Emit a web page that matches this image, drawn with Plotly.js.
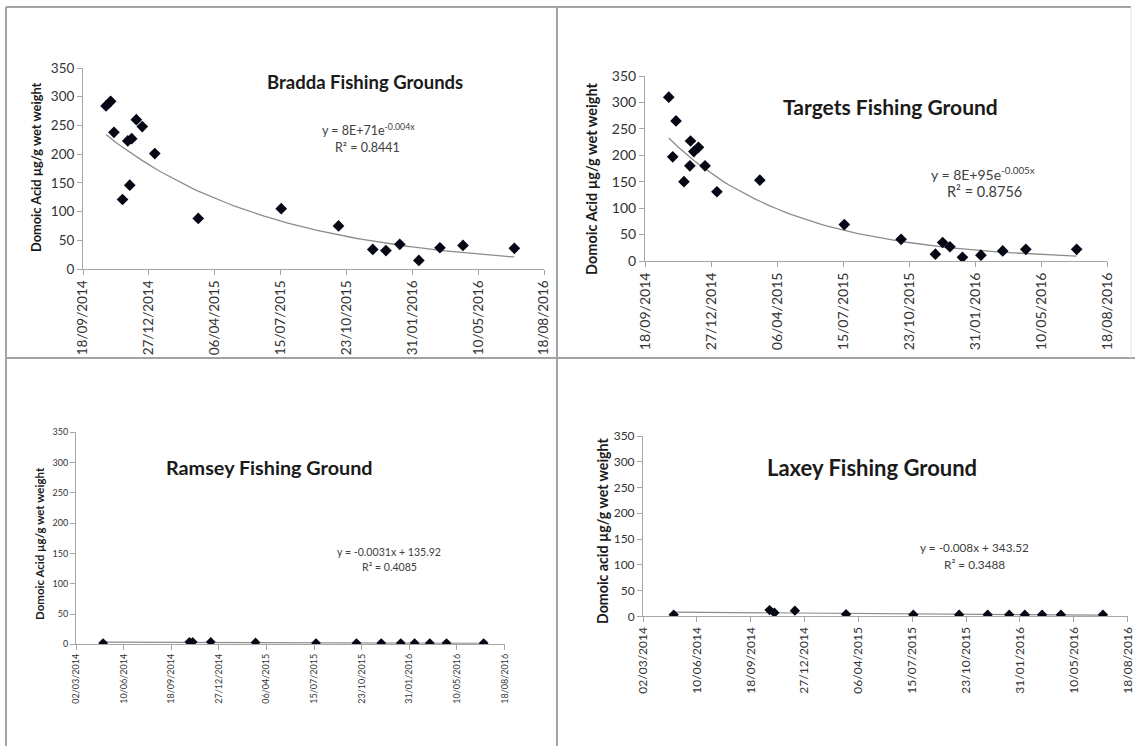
<!DOCTYPE html>
<html>
<head>
<meta charset="utf-8">
<script src="https://cdn.plot.ly/plotly-3.0.1.min.js"></script>
<style>
  html, body { margin: 0; padding: 0; background: #ffffff; }
  #chart { width: 1135px; height: 746px; }
</style>
</head>
<body>
<div id="chart"></div>
<script>
// Domoic acid in scallop samples, four Isle of Man fishing grounds

const braddaDates = ['2014-10-23','2014-10-30','2014-11-04','2014-11-17','2014-11-25','2014-11-28','2014-12-01','2014-12-08','2014-12-17','2015-01-05','2015-03-12','2015-07-16','2015-10-11','2015-12-02','2015-12-22','2016-01-12','2016-02-10','2016-03-13','2016-04-17','2016-07-04'];
const braddaValues = [284, 292, 238, 121, 223, 146, 227, 260, 248, 201, 88, 105, 75, 34, 32, 43, 15, 37, 41, 36];

const targetsDates = ['2014-10-24','2014-10-30','2014-11-04','2014-11-16','2014-11-25','2014-11-26','2014-12-01','2014-12-08','2014-12-18','2015-01-05','2015-03-11','2015-07-17','2015-10-11','2015-12-02','2015-12-13','2015-12-24','2016-01-12','2016-02-09','2016-03-13','2016-04-17','2016-07-03'];
const targetsValues = [310, 197, 265, 150, 180, 227, 207, 215, 180, 131, 153, 69, 41, 13, 35, 27, 7, 11, 19, 22, 22];

const ramseyDates = ['2014-04-28','2014-10-26','2014-11-02','2014-12-10','2015-03-14','2015-07-19','2015-10-12','2015-12-03','2016-01-13','2016-02-11','2016-03-14','2016-04-18','2016-07-05'];
const ramseyValues = [2, 4, 4, 4, 3, 2, 2, 2, 2, 2, 2, 2, 2];

const laxeyDates = ['2014-04-28','2014-10-23','2014-11-01','2014-12-09','2015-03-14','2015-07-17','2015-10-10','2015-12-02','2016-01-11','2016-02-09','2016-03-12','2016-04-16','2016-07-03'];
const laxeyValues = [3, 12, 7, 11, 4, 3, 3, 3, 3, 3, 3, 3, 3];

const tickDaysApart = 100;
const rangeTop = ['2014-09-18', '2016-08-18'];
const rangeBottom = ['2014-03-02', '2016-08-18'];

const DAY = 86400000;
const W = 1135, H = 746;
const px = x => x / W;
const py = y => 1 - y / H;

// Least-squares trendlines, as a spreadsheet would draw them
function toDays(d) { return Date.parse(d) / DAY; }
function fromDays(t) { return new Date(t * DAY).toISOString().slice(0, 10); }
function linFit(xs, ys) {
  const n = xs.length;
  const mx = xs.reduce((a, b) => a + b, 0) / n;
  const my = ys.reduce((a, b) => a + b, 0) / n;
  let sxy = 0, sxx = 0;
  for (let i = 0; i < n; i++) { sxy += (xs[i] - mx) * (ys[i] - my); sxx += (xs[i] - mx) ** 2; }
  const b = sxy / sxx;
  return { a: my - b * mx, b: b };
}
function expTrend(dates, vals) {
  const xs = dates.map(toDays);
  const f = linFit(xs, vals.map(v => Math.log(v)));
  const x0 = Math.min(...xs), x1 = Math.max(...xs);
  const tx = [], ty = [];
  for (let i = 0; i <= 80; i++) {
    const t = x0 + (x1 - x0) * i / 80;
    tx.push(fromDays(t)); ty.push(Math.exp(f.a + f.b * t));
  }
  return { x: tx, y: ty };
}
function linTrend(dates, vals) {
  const xs = dates.map(toDays);
  const f = linFit(xs, vals);
  const x0 = Math.min(...xs), x1 = Math.max(...xs);
  return { x: [fromDays(x0), fromDays(x1)], y: [f.a + f.b * x0, f.a + f.b * x1] };
}

const FONT = 'Lato, "Open Sans", sans-serif';
const markerColor = '#050814';
const trendColor = '#8c8c8c';
const tickColor = '#333333';

function scatter(dates, vals, ax, size) {
  return { x: dates, y: vals, xaxis: 'x' + ax, yaxis: 'y' + ax, type: 'scatter', mode: 'markers',
    marker: { symbol: 'diamond', size: size, color: markerColor, line: { width: 0 } },
    hoverinfo: 'x+y', showlegend: false };
}
function trend(t, ax, w) {
  return { x: t.x, y: t.y, xaxis: 'x' + ax, yaxis: 'y' + ax, type: 'scatter', mode: 'lines',
    line: { color: trendColor, width: w }, hoverinfo: 'skip', showlegend: false };
}

const data = [
  trend(expTrend(braddaDates, braddaValues), '', 1.3),
  scatter(braddaDates, braddaValues, '', 9),
  trend(expTrend(targetsDates, targetsValues), '2', 1.3),
  scatter(targetsDates, targetsValues, '2', 9),
  trend(linTrend(ramseyDates, ramseyValues), '3', 1.2),
  scatter(ramseyDates, ramseyValues, '3', 7.5),
  trend(linTrend(laxeyDates, laxeyValues), '4', 1.2),
  scatter(laxeyDates, laxeyValues, '4', 8)
];

function xAxis(x0, x1, range, fontSize, anchor) {
  return {
    domain: [px(x0), px(x1)], anchor: anchor, type: 'date', range: range,
    tick0: range[0], dtick: tickDaysApart * DAY, tickformat: '%d/%m/%Y',
    tickangle: -90, ticks: 'outside', ticklen: 5, tickcolor: '#a6a6a6',
    showline: true, linecolor: '#a6a6a6', linewidth: 1,
    showgrid: false, zeroline: false,
    tickfont: { family: FONT, size: fontSize, color: tickColor }
  };
}
function yAxis(y0, y1, fontSize, anchor) {
  return {
    domain: [py(y1), py(y0)], anchor: anchor, range: [0, 350], dtick: 50, tick0: 0,
    ticks: 'outside', ticklen: 5, tickcolor: '#a6a6a6',
    showline: true, linecolor: '#a6a6a6', linewidth: 1,
    showgrid: false, zeroline: false,
    tickfont: { family: FONT, size: fontSize, color: tickColor }
  };
}

function note(x, y, text, size, color, angle) {
  return { xref: 'paper', yref: 'paper', x: px(x), y: py(y), xanchor: 'center', yanchor: 'middle',
    text: text, showarrow: false, textangle: angle || 0,
    font: { family: FONT, size: size, color: color } };
}

const lineColor = '#a3a3a3';
function seg(x0, y0, x1, y1, color, w) {
  return { type: 'line', xref: 'paper', yref: 'paper', x0: px(x0), y0: py(y0), x1: px(x1), y1: py(y1),
    line: { color: color, width: w } };
}

const layout = {
  width: W, height: H,
  margin: { l: 0, r: 0, t: 0, b: 0 },
  paper_bgcolor: '#ffffff', plot_bgcolor: 'rgba(0,0,0,0)',
  font: { family: FONT },
  showlegend: false,
  xaxis: xAxis(83, 544, rangeTop, 13.5, 'y'),
  yaxis: yAxis(68, 269, 13.5, 'x'),
  xaxis2: xAxis(645, 1107, rangeTop, 14, 'y2'),
  yaxis2: yAxis(76, 261, 14, 'x2'),
  xaxis3: xAxis(76, 504.6, rangeBottom, 9, 'y3'),
  yaxis3: yAxis(432.3, 644.3, 9, 'x3'),
  xaxis4: xAxis(643, 1127.7, rangeBottom, 12, 'y4'),
  yaxis4: yAxis(436, 616.3, 12, 'x4'),
  annotations: [
    note(365, 82, '<b>Bradda Fishing Grounds</b>', 18.5, '#1a1a1a'),
    note(368, 129, 'y = 8E+71e<sup>-0.004x</sup>', 12.5, '#404040'),
    note(367, 147, 'R² = 0.8441', 12.5, '#404040'),
    note(36, 167, '<b>Domoic Acid µg/g wet weight</b>', 12.8, '#1a1a1a', -90),

    note(890, 107, '<b>Targets Fishing Ground</b>', 21, '#1a1a1a'),
    note(983, 174, 'y = 8E+95e<sup>-0.005x</sup>', 14, '#404040'),
    note(984, 191, 'R² = 0.8756', 14.5, '#404040'),
    note(591, 179, '<b>Domoic Acid µg/g wet weight</b>', 14.5, '#1a1a1a', -90),

    note(269, 467, '<b>Ramsey Fishing Ground</b>', 19.8, '#1a1a1a'),
    note(389, 552, 'y = -0.0031x + 135.92', 10.6, '#404040'),
    note(389, 567, 'R² = 0.4085', 10.6, '#404040'),
    note(39, 544, '<b>Domoic Acid µg/g wet weight</b>', 11.5, '#1a1a1a', -90),

    note(872, 467, '<b>Laxey Fishing Ground</b>', 22, '#1a1a1a'),
    note(974, 547, 'y = -0.008x + 343.52', 11.8, '#404040'),
    note(974, 564, 'R² = 0.3488', 11.8, '#404040'),
    note(602, 531, '<b>Domoic acid µg/g wet weight</b>', 14.2, '#1a1a1a', -90)
  ],
  shapes: [
    seg(6, 7, 1131, 7, lineColor, 2),
    seg(6, 7, 6, 746, lineColor, 2),
    seg(557, 7, 557, 746, lineColor, 2),
    seg(6, 358, 1135, 358, lineColor, 2),
    seg(1131, 7, 1131, 358, '#e6e6e6', 1)
  ]
};

Plotly.newPlot('chart', data, layout, { displayModeBar: false, staticPlot: true });
</script>
</body>
</html>
